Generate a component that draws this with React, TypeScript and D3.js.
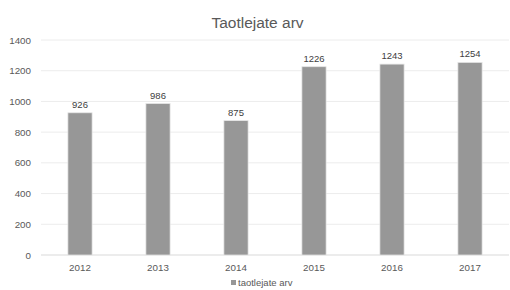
import React from "react";
import * as d3 from "d3";

const categories = ["2012", "2013", "2014", "2015", "2016", "2017"];
const values = [926, 986, 875, 1226, 1243, 1254];
const yTicks = [0, 200, 400, 600, 800, 1000, 1200, 1400];
const title = "Taotlejate arv";
const seriesName = "taotlejate arv";

export default function App() {
  const W = 510, H = 290;
  const left = 41, right = 509, top = 40, bottom = 255;
  const x = d3.scaleBand().domain(categories).range([left, right]).paddingInner(0.69).paddingOuter(0.345);
  const y = d3.scaleLinear().domain([0, 1400]).range([bottom, top]);
  const font = "'Liberation Sans', Arial, sans-serif";
  const textColor = "#595959";
  return (
    <svg width={W} height={H} style={{ position: "absolute", left: 0, top: 0, background: "#fff" }} fontFamily={font}>
      <text x={257.5} y={27.5} textAnchor="middle" fontSize={15.5} fill={textColor}>{title}</text>
      {yTicks.map((t) => (
        <g key={t}>
          <line x1={left} x2={right} y1={y(t)} y2={y(t)} stroke={t === 0 ? "#d9d9d9" : "#ececec"} strokeWidth={1} />
          <text x={31} y={y(t) + 3.5} textAnchor="end" fontSize={9.8} fill={textColor}>{t}</text>
        </g>
      ))}
      {categories.map((c, i) => (
        <g key={c}>
          <rect x={x(c)!} y={y(values[i])} width={x.bandwidth()} height={y(0) - y(values[i])} fill="#979797" stroke="#e6e6e6" strokeWidth={0.75} />
          <text x={x(c)! + x.bandwidth() / 2} y={y(values[i]) - 5} textAnchor="middle" fontSize={9.5} fill="#404040">{values[i]}</text>
          <text x={x(c)! + x.bandwidth() / 2} y={y(0) + 15.5} textAnchor="middle" fontSize={9.8} fill={textColor}>{c}</text>
        </g>
      ))}
      <rect x={231} y={280} width={5} height={5} fill="#979797" />
      <text x={238} y={285.5} fontSize={9.5} fill={textColor}>{seriesName}</text>
    </svg>
  );
}
